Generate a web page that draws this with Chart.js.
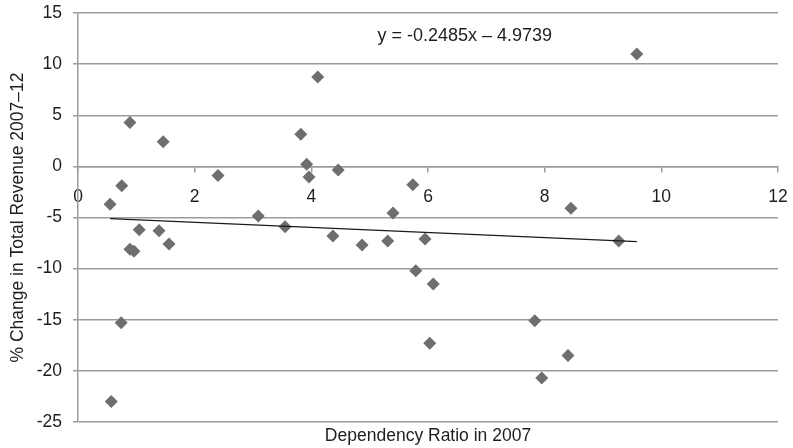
<!DOCTYPE html>
<html>
<head>
<meta charset="utf-8">
<script src="https://cdn.jsdelivr.net/npm/chart.js@4.4.1/dist/chart.umd.min.js"></script>
<style>
  html, body { margin: 0; padding: 0; background: #fff; }
  #wrap { width: 793px; height: 448px; }
</style>
</head>
<body>
<div id="wrap"><canvas id="chart"></canvas></div>
<script>
// Data
const ratio = [0.55, 0.75, 0.89, 0.89, 0.96, 1.05, 1.39, 1.56, 1.46, 0.74, 0.57,
    2.4, 3.09, 3.55, 3.82, 3.92, 3.96, 4.11, 4.46, 4.37, 4.87, 5.31, 5.40,
    5.74, 5.95, 5.79, 6.09, 6.03, 7.83, 7.95, 8.40, 8.45, 9.27, 9.58];
const revenueChange = [-3.7, -1.9, 4.3, -8.1, -8.3, -6.2, -6.3, -7.6, 2.4, -15.3, -23.0,
    -0.9, -4.85, -5.9, 3.15, 0.2, -1.05, 8.75, -0.35, -6.8, -7.7, -7.3, -4.55,
    -1.8, -7.1, -10.2, -11.5, -17.3, -15.1, -20.7, -18.5, -4.1, -7.3, 11.0];

// trendline endpoints (y = -0.2485x - 4.9739)
const trendX = [0.55, 9.58];
const trendY = [-5.11, -7.36];
const equationText = 'y = -0.2485x \u2013 4.9739';
const xTitle = 'Dependency Ratio in 2007';
const yTitle = '% Change in Total Revenue 2007\u201312';

const xTicks = [0, 2, 4, 6, 8, 10, 12];
const yTicks = [-25, -20, -15, -10, -5, 0, 5, 10, 15];

const gridColor = '#9c9c9c';
const textColor = '#1e1e1e';
const font = "'Liberation Sans', Arial, sans-serif";

// equation label + x title (centred on the plot area)
const extraText = {
    id: 'extraText',
    afterDatasetsDraw(chart) {
        const ctx = chart.ctx;
        const area = chart.chartArea;
        ctx.save();
        ctx.fillStyle = textColor;
        ctx.textAlign = 'center';
        ctx.textBaseline = 'middle';
        ctx.font = '18px ' + font;
        ctx.fillText(equationText, chart.scales.x.getPixelForValue(6.63), chart.scales.y.getPixelForValue(12.75));
        ctx.font = '17.5px ' + font;
        ctx.fillText(xTitle, (area.left + area.right) / 2, area.bottom + 14);
        ctx.restore();
    }
};

const points = ratio.map((x, i) => ({ x: x, y: revenueChange[i] }));
const trend = trendX.map((x, i) => ({ x: x, y: trendY[i] }));

new Chart(document.getElementById('chart'), {
    type: 'scatter',
    data: {
        datasets: [{
            data: points,
            pointStyle: 'rectRot',
            pointRadius: 6.5,
            pointHoverRadius: 6.5,
            backgroundColor: '#6e6e6e',
            borderColor: '#6e6e6e',
            borderWidth: 0,
            order: 1
        }, {
            type: 'line',
            data: trend,
            borderColor: '#1a1a1a',
            borderWidth: 1.3,
            pointRadius: 0,
            fill: false,
            order: 0
        }]
    },
    options: {
        responsive: true,
        maintainAspectRatio: false,
        animation: false,
        events: [],
        layout: { padding: { top: 13, right: 15, left: 0, bottom: 26 } },
        plugins: {
            legend: { display: false },
            tooltip: { enabled: false }
        },
        scales: {
            x: {
                type: 'linear',
                position: { y: 0 },
                min: 0,
                max: 12,
                afterFit(scale) {
                    scale.height = 0;
                    scale.paddingLeft = 0;
                    scale.paddingRight = 0;
                },
                afterBuildTicks(scale) { scale.ticks = xTicks.map(v => ({ value: v })); },
                grid: {
                    drawOnChartArea: false,
                    drawTicks: true,
                    tickLength: 5,
                    color: gridColor,
                    lineWidth: 1.5
                },
                border: { display: true, color: gridColor, width: 1.5 },
                ticks: {
                    color: textColor,
                    padding: 15,
                    maxRotation: 0,
                    font: { family: font, size: 17.5 }
                }
            },
            y: {
                min: -25,
                max: 15,
                afterFit(scale) {
                    scale.width = 78;
                    scale.paddingTop = 0;
                    scale.paddingBottom = 0;
                },
                afterBuildTicks(scale) { scale.ticks = yTicks.map(v => ({ value: v })); },
                grid: {
                    color: gridColor,
                    lineWidth: 1.5,
                    tickLength: 5
                },
                border: { display: true, color: gridColor, width: 1.5 },
                ticks: {
                    color: textColor,
                    padding: 11,
                    font: { family: font, size: 17.5 }
                },
                title: {
                    display: true,
                    text: yTitle,
                    color: textColor,
                    font: { family: font, size: 17.5 },
                    padding: { top: 8, bottom: 4 }
                }
            }
        }
    },
    plugins: [extraText]
});
</script>
</body>
</html>
